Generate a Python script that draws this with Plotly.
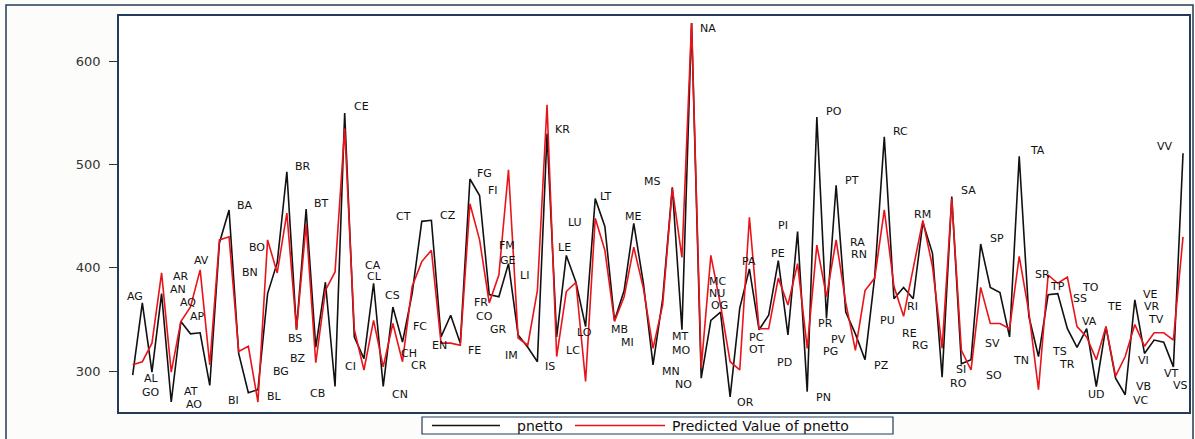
import plotly.graph_objects as go

provinces = ["AG", "AL", "GO", "AN", "AO", "AP", "AQ", "AR", "AT", "AV",
             "BA", "BG", "BI", "BL", "BN", "BO", "BR", "BS", "BT", "BZ",
             "CA", "CB", "CE", "CH", "CI", "CL", "CN", "CO", "CR", "CS",
             "CT", "CZ", "EN", "FC", "FE", "FG", "FI", "FM", "FR", "GE",
             "GR", "IM", "IS", "KR", "LC", "LE", "LI", "LO", "LT", "LU",
             "MB", "MC", "ME", "MI", "MN", "MO", "MS", "MT", "NA", "NO",
             "NU", "OG", "OR", "OT", "PA", "PC", "PD", "PE", "PG", "PI",
             "PN", "PO", "PR", "PT", "PU", "PV", "PZ", "RA", "RC", "RE",
             "RG", "RI", "RM", "RN", "RO", "SA", "SI", "SO", "SP", "SR",
             "SS", "SV", "TA", "TE", "TN", "TO", "TP", "TR", "TS", "TV",
             "UD", "VA", "VB", "VC", "VE", "VI", "VR", "VS", "VT", "VV"]

pnetto = [296, 366, 299, 375, 270, 348, 336, 337, 286, 424,
          456, 317, 279, 282, 375, 405, 493, 340, 457, 323,
          386, 285, 550, 333, 312, 385, 285, 362, 328, 375,
          445, 446, 333, 354, 327, 486, 470, 374, 372, 404,
          335, 323, 309, 530, 333, 412, 386, 343, 467, 440,
          349, 378, 443, 385, 306, 370, 478, 340, 637, 293,
          349, 357, 275, 361, 399, 340, 354, 407, 335, 435,
          280, 546, 351, 480, 357, 336, 311, 391, 527, 370,
          381, 370, 444, 414, 294, 469, 307, 311, 423, 381,
          376, 333, 508, 353, 314, 374, 375, 341, 323, 341,
          285, 343, 293, 277, 369, 317, 330, 328, 304, 511]

predicted = [306, 309, 327, 395, 299, 348, 362, 398, 306, 427,
             430, 319, 324, 270, 427, 395, 453, 340, 442, 308,
             378, 396, 535, 340, 301, 349, 304, 346, 309, 382,
             406, 417, 327, 327, 325, 462, 427, 366, 393, 495,
             332, 325, 378, 558, 314, 377, 386, 290, 448, 417,
             348, 372, 420, 380, 322, 364, 477, 410, 637, 303,
             412, 364, 309, 301, 449, 341, 341, 390, 364, 404,
             322, 422, 372, 427, 366, 320, 378, 390, 456, 382,
             353, 399, 446, 401, 322, 467, 320, 301, 381, 346,
             346, 341, 411, 357, 282, 393, 385, 391, 343, 333,
             311, 343, 295, 314, 345, 324, 337, 337, 330, 430]

# where each province label sits (x in observation order, y in pnetto units)
label_x = [0.26, 1.97, 1.87, 4.67, 6.36, 6.70, 5.79, 4.98, 6.05, 7.11,
           11.68, 15.36, 10.48, 14.71, 12.22, 12.87, 17.68, 16.82, 19.55, 17.16,
           24.91, 19.20, 23.70, 28.68, 22.61, 25.07, 27.69, 36.56, 29.69, 26.99,
           28.13, 32.70, 31.84, 29.79, 35.50, 36.54, 37.37, 38.86, 36.16, 38.91,
           37.94, 39.29, 43.34, 44.64, 45.73, 44.85, 40.66, 46.89, 49.12, 45.88,
           50.48, 60.68, 51.94, 51.30, 55.88, 56.92, 53.93, 56.84, 59.69, 57.20,
           60.68, 60.91, 63.64, 64.83, 63.95, 64.78, 67.65, 66.93, 72.41, 67.53,
           71.66, 72.79, 71.90, 74.64, 78.32, 73.27, 77.75, 75.21, 79.73, 80.63,
           81.75, 80.95, 82.01, 75.34, 85.75, 86.73, 85.95, 89.40, 89.66, 94.41,
           98.31, 89.23, 93.87, 101.91, 92.21, 99.43, 96.02, 96.96, 96.23, 106.23,
           99.97, 99.27, 104.93, 104.67, 105.66, 104.85, 105.83, 108.72, 107.78, 107.13]
label_y = [372.6, 292.9, 279.4, 379.1, 267.8, 353.2, 366.1, 391.3, 280.0, 406.8,
           460.7, 299.3, 271.3, 275.8, 395.2, 419.4, 497.8, 331.7, 462.3, 312.3,
           402.6, 278.4, 555.8, 317.1, 304.8, 391.3, 277.7, 352.6, 305.8, 372.9,
           450.0, 451.0, 325.2, 342.9, 320.3, 491.4, 475.2, 421.3, 366.1, 406.8,
           340.7, 314.8, 304.2, 534.0, 320.3, 419.4, 392.9, 337.5, 469.4, 443.6,
           340.4, 387.1, 449.4, 327.8, 299.3, 320.3, 483.2, 333.2, 631.7, 287.1,
           375.2, 363.9, 269.3, 321.0, 405.8, 332.6, 308.0, 413.9, 318.7, 440.7,
           274.2, 551.0, 345.7, 484.9, 348.7, 330.7, 305.1, 424.6, 531.6, 336.5,
           324.5, 362.2, 452.0, 413.0, 287.6, 474.5, 301.0, 296.1, 428.5, 393.6,
           370.4, 326.8, 513.3, 362.2, 310.6, 380.6, 381.6, 306.5, 318.7, 350.3,
           277.7, 347.7, 284.8, 271.9, 374.2, 310.6, 362.9, 285.5, 297.8, 517.1]

y_ticks = [300, 400, 500, 600]
series_names = ["pnetto", "Predicted Value of pnetto"]
series_colors = ["#111111", "#e8141a"]
obs = list(range(len(provinces)))

frame = "#243a56"
fig = go.Figure()
for name, vals, col in zip(series_names, [pnetto, predicted], series_colors):
    fig.add_trace(go.Scatter(x=obs, y=vals, mode="lines", name=name,
                             line=dict(color=col, width=1.6), showlegend=False))

for t, lx, ly in zip(provinces, label_x, label_y):
    fig.add_annotation(x=lx, y=ly, text=t, showarrow=False,
                       xanchor="center", yanchor="middle",
                       font=dict(family="DejaVu Sans", size=11, color="#111111"))

# legend box below the plot (paper coordinates)
PW, PH = 1070.0, 396.0
def px(xp):
    return (xp - 119) / PW
def py(yp):
    return (412 - yp) / PH

shapes = [
    dict(type="rect", xref="paper", yref="paper",
         x0=px(6), x1=px(1193), y0=py(452), y1=py(5),
         line=dict(color=frame, width=1.5), fillcolor="rgba(0,0,0,0)", layer="below"),
    dict(type="rect", xref="paper", yref="paper",
         x0=px(422), x1=px(893), y0=py(434), y1=py(417),
         line=dict(color=frame, width=1.2), fillcolor="#ffffff", layer="below"),
]
sample_spans = [(432, 500, 515), (575, 665, 670)]
for (a, b, tx), name, col in zip(sample_spans, series_names, series_colors):
    shapes.append(dict(type="line", xref="paper", yref="paper",
                       x0=px(a), x1=px(b), y0=py(425.5), y1=py(425.5),
                       line=dict(color=col, width=1.6)))
    fig.add_annotation(xref="paper", yref="paper", x=px(tx), y=py(425.5),
                       text=name, showarrow=False, xanchor="left", yanchor="middle",
                       font=dict(family="DejaVu Sans", size=14, color="#111111"))

fig.update_layout(
    width=1195, height=439,
    margin=dict(l=119, r=6, t=16, b=27, autoexpand=False),
    paper_bgcolor="#fcfcfa", plot_bgcolor="#ffffff",
    showlegend=False,
    xaxis=dict(range=[-1.42, 109.62], showgrid=False, zeroline=False,
               showticklabels=False, ticks="", showline=True, mirror=True,
               linecolor=frame, linewidth=1.5),
    yaxis=dict(range=[260.3, 643.9], tickvals=y_ticks, showgrid=False, zeroline=False,
               ticks="outside", ticklen=8, tickcolor="#333333", tickwidth=1,
               ticklabelstandoff=6,
               showline=True, mirror=True, linecolor=frame, linewidth=1.5,
               tickfont=dict(family="DejaVu Sans", size=13, color="#333333")),
    shapes=shapes,
)

fig.write_html("out.html", config={"displayModeBar": False},
               post_script="document.body.style.margin='0px';")
